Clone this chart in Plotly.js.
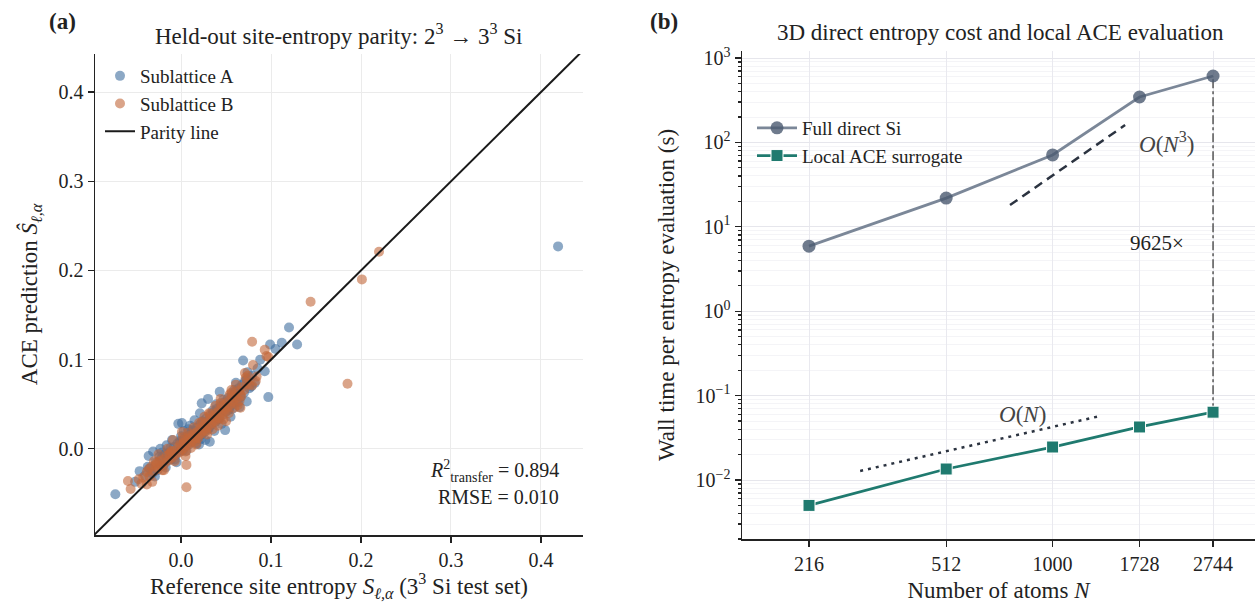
<!DOCTYPE html>
<html>
<head>
<meta charset="utf-8">
<script src="https://cdn.plot.ly/plotly-3.0.1.min.js"></script>
<style>html,body{margin:0;padding:0;background:#fff;}#chart{width:1255px;height:610px;}</style>
</head>
<body>
<div id="chart"></div>
<script>
// ---- Panel (a): held-out site-entropy parity ----
const subA_x = [0.419,0.120,0.129,0.112,0.099,0.105,0.069,0.097,0.073,0.088,0.093,0.061,0.043,0.030,0.023,0.049,0.001,-0.073,-0.051,-0.046,-0.036,-0.023,-0.031,-0.003,0.010,0.021,0.032,
  -0.040,-0.035,-0.032,-0.028,-0.026,-0.022,-0.020,-0.018,-0.015,-0.013,-0.011,-0.008,-0.006,-0.004,-0.002,0.000,0.002,0.004,0.005,0.007,0.009,0.011,0.012,0.014,0.016,0.018,0.019,0.021,0.023,0.025,0.026,0.028,0.030,0.032,0.034,0.036,0.038,0.040,0.042,0.044,0.046,0.048,0.050,0.052,0.054,0.056,0.058,0.060,0.062,0.064,0.066,0.068,0.070,0.073,0.076,0.079,0.082,0.085,0.015,0.008,-0.010,-0.016,0.027,0.037,0.045,0.055,0.065,0.020,-0.005,0.003,
  -0.037,-0.029,-0.024,-0.017,-0.012,-0.007,-0.001,0.006,0.013,0.017,0.024,0.031,0.035,0.041,0.047,0.053,0.059,0.063,0.071,0.078,-0.021,0.000,0.022,0.039,0.057,0.074];
const subA_y = [0.227,0.136,0.117,0.119,0.117,0.112,0.099,0.058,0.053,0.100,0.087,0.074,0.064,0.056,0.051,0.021,0.029,-0.051,-0.037,-0.025,-0.008,0.000,-0.003,0.028,0.026,0.040,0.008,
  -0.030,-0.022,-0.028,-0.015,-0.024,-0.010,-0.019,-0.006,-0.013,-0.004,-0.012,0.002,-0.007,0.006,-0.003,0.008,-0.002,0.012,0.003,0.014,0.005,0.017,0.008,0.020,0.010,0.024,0.013,0.027,0.016,0.030,0.019,0.034,0.022,0.037,0.027,0.041,0.030,0.045,0.034,0.048,0.038,0.052,0.042,0.057,0.046,0.060,0.050,0.064,0.054,0.068,0.058,0.072,0.063,0.078,0.068,0.082,0.074,0.090,0.032,0.022,0.010,0.004,0.010,0.020,0.028,0.036,0.047,0.005,-0.015,0.020,
  -0.020,-0.031,-0.009,-0.021,0.001,-0.012,0.009,-0.002,0.021,0.006,0.031,0.023,0.043,0.033,0.055,0.044,0.066,0.052,0.076,0.070,-0.004,0.014,0.011,0.050,0.045,0.086];
const subB_x = [0.220,0.201,0.144,0.079,0.093,0.097,0.185,0.095,0.080,0.084,0.071,0.066,-0.056,-0.059,-0.047,-0.038,0.006,0.006,-0.009,0.001,0.050,
  -0.042,-0.038,-0.035,-0.033,-0.030,-0.028,-0.026,-0.024,-0.022,-0.020,-0.018,-0.016,-0.014,-0.012,-0.010,-0.008,-0.006,-0.004,-0.002,0.000,0.001,0.003,0.004,0.006,0.007,0.009,0.010,0.012,0.013,0.015,0.016,0.018,0.019,0.021,0.022,0.024,0.025,0.027,0.028,0.030,0.031,0.033,0.034,0.036,0.037,0.039,0.040,0.042,0.043,0.045,0.046,0.048,0.049,0.051,0.052,0.054,0.055,0.057,0.058,0.060,0.062,0.064,0.066,0.068,0.070,0.073,0.076,0.002,0.011,0.020,0.029,0.038,0.047,0.056,0.063,-0.015,-0.025,0.005,0.017,0.035,0.044,0.053,0.061,-0.030,0.008,0.026,0.041,0.059,-0.019,0.014,
  -0.036,-0.027,-0.021,-0.013,-0.007,-0.001,0.005,0.010,0.016,0.023,0.028,0.032,0.038,0.044,0.050,0.056,0.065,0.072,-0.032,-0.011,0.003,0.019,0.031,0.043,0.054,0.067,-0.044,0.079,0.083,0.074];
const subB_y = [0.221,0.190,0.165,0.120,0.111,0.103,0.073,0.104,0.094,0.081,0.085,0.046,-0.045,-0.036,-0.034,-0.040,-0.043,-0.018,0.010,0.019,0.031,
  -0.032,-0.026,-0.031,-0.020,-0.025,-0.018,-0.022,-0.014,-0.019,-0.012,-0.016,-0.008,-0.013,-0.005,-0.010,-0.002,-0.006,0.001,-0.004,0.004,-0.001,0.007,0.002,0.009,0.004,0.012,0.007,0.014,0.009,0.017,0.012,0.019,0.015,0.022,0.017,0.025,0.020,0.028,0.023,0.031,0.026,0.034,0.029,0.037,0.032,0.040,0.035,0.043,0.038,0.046,0.041,0.049,0.044,0.052,0.047,0.055,0.050,0.058,0.053,0.061,0.057,0.065,0.061,0.069,0.066,0.074,0.072,0.013,0.001,0.029,0.016,0.048,0.033,0.066,0.049,0.000,-0.006,-0.008,0.005,0.022,0.056,0.040,0.072,-0.014,0.018,0.036,0.026,0.046,-0.024,0.024,
  -0.023,-0.016,-0.024,-0.006,-0.014,0.005,-0.003,0.015,0.008,0.030,0.020,0.039,0.031,0.051,0.042,0.063,0.054,0.080,-0.037,-0.003,0.010,0.012,0.040,0.034,0.061,0.059,-0.039,0.071,0.076,0.082];
const parity = [-0.1, 0.45];
const r2Text = "<i>R</i><sup>2</sup><sub>transfer</sub> = 0.894";
const rmseText = "RMSE = 0.010";
const ticksA = [0.0, 0.1, 0.2, 0.3, 0.4];

// ---- Panel (b): cost scaling ----
const atoms = [216, 512, 1000, 1728, 2744];
const directTime = [5.9, 21.9, 71, 345, 612];
const aceTime = [0.0050, 0.0135, 0.0246, 0.0425, 0.0636];
const guideN3_x = [765, 1578], guideN3_y = [18.1, 160.7];
const guideN1_x = [298, 1348], guideN1_y = [0.0128, 0.0573];
const speedupLabel = "9625×";
const yTicksB = [0.01, 0.1, 1, 10, 100, 1000];
const yTickTextB = ["10<sup>−2</sup>","10<sup>−1</sup>","10<sup>0</sup>","10<sup>1</sup>","10<sup>2</sup>","10<sup>3</sup>"];

const FONT = "Liberation Serif, Times New Roman, serif";
const ink = "#222";

const traces = [
  {x: subA_x, y: subA_y, type: 'scatter', mode: 'markers', name: 'Sublattice A', xaxis: 'x', yaxis: 'y', legend: 'legend',
   marker: {size: 10, color: '#3f6e9e', opacity: 0.6, line: {width: 0}}},
  {x: subB_x, y: subB_y, type: 'scatter', mode: 'markers', name: 'Sublattice B', xaxis: 'x', yaxis: 'y', legend: 'legend',
   marker: {size: 10, color: '#c2683a', opacity: 0.6, line: {width: 0}}},
  {x: parity, y: parity, type: 'scatter', mode: 'lines', name: 'Parity line', xaxis: 'x', yaxis: 'y', legend: 'legend',
   line: {color: '#1a1a1a', width: 2}},
  {x: guideN3_x, y: guideN3_y, type: 'scatter', mode: 'lines', showlegend: false, xaxis: 'x2', yaxis: 'y2',
   line: {color: '#2b3340', width: 2.5, dash: '9px,6px'}},
  {x: guideN1_x, y: guideN1_y, type: 'scatter', mode: 'lines', showlegend: false, xaxis: 'x2', yaxis: 'y2',
   line: {color: '#2b3340', width: 2.5, dash: '3px,5px'}},
  {x: [atoms[4], atoms[4]], y: [aceTime[4], directTime[4]], type: 'scatter', mode: 'lines', showlegend: false, xaxis: 'x2', yaxis: 'y2',
   line: {color: '#555', width: 1.5, dash: 'dashdot'}},
  {x: atoms, y: directTime, type: 'scatter', mode: 'lines+markers', name: 'Full direct Si', xaxis: 'x2', yaxis: 'y2', legend: 'legend2',
   line: {color: '#7b8798', width: 2.8}, marker: {symbol: 'circle', size: 13, color: 'rgba(75,90,112,0.8)', line: {width: 0}}},
  {x: atoms, y: aceTime, type: 'scatter', mode: 'lines+markers', name: 'Local ACE surrogate', xaxis: 'x2', yaxis: 'y2', legend: 'legend2',
   line: {color: '#1f7a6f', width: 2.8}, marker: {symbol: 'square', size: 12, color: '#1f7a6f', line: {width: 1, color: '#fff'}}}
];

const axisCommon = {
  showline: true, linecolor: ink, linewidth: 1.5, ticks: 'outside', ticklen: 6, tickwidth: 1.3, tickcolor: ink,
  tickfont: {family: FONT, size: 20, color: ink}, zeroline: false, mirror: false
};

const layout = {
  width: 1255, height: 610,
  margin: {l: 0, r: 0, t: 0, b: 0},
  paper_bgcolor: '#fff', plot_bgcolor: '#fff',
  font: {family: FONT, color: ink},
  showlegend: true,
  xaxis: Object.assign({}, axisCommon, {
    domain: [95/1255, 583/1255], range: [-0.0956, 0.4467], tickvals: ticksA, tickformat: '.1f',
    showgrid: true, gridcolor: '#ebebeb', gridwidth: 1, anchor: 'y',
    title: {text: 'Reference site entropy <i>S</i><sub><i>ℓ,α</i></sub> (3<sup>3</sup> Si test set)', font: {family: FONT, size: 23, color: ink}, standoff: 8}
  }),
  yaxis: Object.assign({}, axisCommon, {
    domain: [1-535/610, 1-54/610], range: [-0.0966, 0.4427], tickvals: ticksA, tickformat: '.1f',
    showgrid: true, gridcolor: '#ebebeb', gridwidth: 1, anchor: 'x',
    title: {text: 'ACE prediction <i>Ŝ</i><sub><i>ℓ,α</i></sub>', font: {family: FONT, size: 23, color: ink}, standoff: 14}
  }),
  xaxis2: Object.assign({}, axisCommon, {
    type: 'log', domain: [742/1255, 1], range: [2.1514, 3.553], tickvals: atoms, ticktext: atoms.map(String),
    showgrid: true, gridcolor: '#e9e9ef', gridwidth: 1, anchor: 'y2',
    title: {text: 'Number of atoms <i>N</i>', font: {family: FONT, size: 23, color: ink}, standoff: 8}
  }),
  yaxis2: Object.assign({}, axisCommon, {
    type: 'log', domain: [1-539/610, 1-51/610], range: [-2.699, 3.083], tickvals: yTicksB, ticktext: yTickTextB,
    showgrid: true, gridcolor: '#e6e6ec', gridwidth: 1, anchor: 'x2',
    minor: {dtick: 'D1', ticks: 'outside', ticklen: 3, tickcolor: ink, showgrid: true, gridcolor: '#f4f4f7', gridwidth: 1},
    title: {text: 'Wall time per entropy evaluation (s)', font: {family: FONT, size: 23, color: ink}, standoff: 14}
  }),
  legend: {x: 100/1255, y: 1-57/610, xanchor: 'left', yanchor: 'top', bgcolor: 'rgba(255,255,255,0)',
    font: {family: FONT, size: 19, color: ink}, tracegroupgap: 0, itemwidth: 30},
  legend2: {x: 752/1255, y: 1-109/610, xanchor: 'left', yanchor: 'top', bgcolor: 'rgba(255,255,255,0)',
    font: {family: FONT, size: 19, color: ink}, itemwidth: 40},
  annotations: [
    {xref: 'paper', yref: 'paper', x: 338/1255, y: 1-35/610, text: 'Held-out site-entropy parity: 2<sup>3</sup> → 3<sup>3</sup> Si',
     showarrow: false, font: {family: FONT, size: 23, color: ink}, xanchor: 'center', yanchor: 'middle'},
    {xref: 'paper', yref: 'paper', x: 1000/1255, y: 1-32/610, text: '3D direct entropy cost and local ACE evaluation',
     showarrow: false, font: {family: FONT, size: 23, color: ink}, xanchor: 'center', yanchor: 'middle'},
    {xref: 'paper', yref: 'paper', x: 47/1255, y: 1-22/610, text: '<b>(a)</b>', showarrow: false,
     font: {family: FONT, size: 23, color: ink}, xanchor: 'left', yanchor: 'middle'},
    {xref: 'paper', yref: 'paper', x: 648/1255, y: 1-21/610, text: '<b>(b)</b>', showarrow: false,
     font: {family: FONT, size: 23, color: ink}, xanchor: 'left', yanchor: 'middle'},
    {xref: 'paper', yref: 'paper', x: 561/1255, y: 1-471/610, text: r2Text, showarrow: false,
     font: {family: FONT, size: 20, color: ink}, xanchor: 'right', yanchor: 'middle'},
    {xref: 'paper', yref: 'paper', x: 561/1255, y: 1-497/610, text: rmseText, showarrow: false,
     font: {family: FONT, size: 20, color: ink}, xanchor: 'right', yanchor: 'middle'},
    {xref: 'paper', yref: 'paper', x: 1166/1255, y: 1-143/610, text: '<i>O</i>(<i>N</i><sup>3</sup>)', showarrow: false,
     font: {family: FONT, size: 23, color: '#444'}, xanchor: 'center', yanchor: 'middle'},
    {xref: 'paper', yref: 'paper', x: 1186/1255, y: 1-243/610, text: speedupLabel, showarrow: false,
     font: {family: FONT, size: 21, color: ink}, xanchor: 'right', yanchor: 'middle'},
    {xref: 'paper', yref: 'paper', x: 1022/1255, y: 1-414/610, text: '<i>O</i>(<i>N</i>)', showarrow: false,
     font: {family: FONT, size: 23, color: '#444'}, xanchor: 'center', yanchor: 'middle'}
  ]
};

Plotly.newPlot('chart', traces, layout, {displayModeBar: false, staticPlot: true});
</script>
</body>
</html>
